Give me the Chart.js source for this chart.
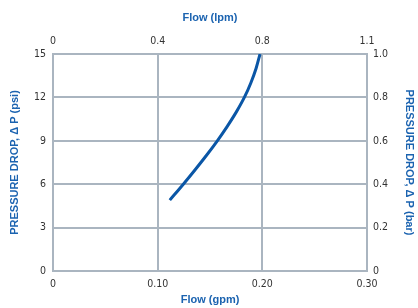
<!DOCTYPE html>
<html>
<head>
<meta charset="utf-8">
<script src="https://cdn.jsdelivr.net/npm/chart.js@4"></script>
<style>
  body { margin: 0; background: #fff; }
  #flowChart { display: block; }
</style>
</head>
<body>
<canvas id="flowChart" width="418" height="308"></canvas>
<script>
// curve: flow in gpm, pressure drop in psi
var flowGpm = [0.1116, 0.1245, 0.1358, 0.1467, 0.157, 0.1665, 0.1752, 0.1828, 0.189, 0.194, 0.1978];
var dropPsi = [4.9, 6, 7, 8, 9, 10, 11, 12, 13, 14, 15];

var bottomTicks = [0, 0.1, 0.2, 0.3];
var bottomLabels = ["0", "0.10", "0.20", "0.30"];
var topLabels = ["0", "0.4", "0.8", "1.1"];
var psiTicks = [0, 3, 6, 9, 12, 15];
var barTicks = [0, 0.2, 0.4, 0.6, 0.8, 1.0];

var blue = "#1b63b0";
var lineBlue = "#0a56a6";
var gridGrey = "#aab5c0";
var tickFont = { family: "'Liberation Sans Narrow', 'DejaVu Sans Condensed', Arial, sans-serif", size: 10.5 };
var titleFont = { family: "'Liberation Sans Narrow', 'Liberation Sans', Arial, sans-serif", size: 11, weight: "bold" };

var points = [];
for (var i = 0; i < flowGpm.length; i++) {
  points.push({ x: flowGpm[i], y: dropPsi[i] });
}

function fixedTicks(list) {
  return function (scale) {
    scale.ticks = list.map(function (v) { return { value: v }; });
  };
}

var ctx = document.getElementById("flowChart").getContext('2d');
var flowChart = new Chart(ctx, {
  type: 'line',
  data: {
    datasets: [{
      data: points,
      borderColor: lineBlue,
      borderWidth: 3,
      pointRadius: 0,
      cubicInterpolationMode: 'monotone',
      fill: false
    }]
  },
  options: {
    responsive: false,
    animation: false,
    plugins: { legend: { display: false }, tooltip: { enabled: false } },
    layout: { padding: 0 },
    scales: {
      x: {
        type: 'linear', position: 'bottom', min: 0, max: 0.3,
        afterBuildTicks: fixedTicks(bottomTicks),
        afterFit: function (s) { s.height = 37; },
        grid: { color: gridGrey, lineWidth: 2, drawTicks: false },
        border: { color: gridGrey, width: 2 },
        ticks: {
          color: "#333", font: tickFont, padding: 7, maxRotation: 0,
          callback: function (v, idx) { return bottomLabels[idx]; }
        },
        title: { display: true, text: "Flow (gpm)", color: blue, font: titleFont, padding: { top: 0, bottom: 1 } }
      },
      x2: {
        type: 'linear', position: 'top', min: 0, max: 0.3,
        afterBuildTicks: fixedTicks(bottomTicks),
        afterFit: function (s) { s.height = 54; },
        grid: { display: false, drawTicks: false },
        border: { color: gridGrey, width: 2 },
        ticks: {
          color: "#333", font: tickFont, padding: 6, maxRotation: 0,
          callback: function (v, idx) { return topLabels[idx]; }
        },
        title: { display: true, text: "Flow (lpm)", color: blue, font: titleFont, padding: { top: 11, bottom: 0 } }
      },
      y: {
        type: 'linear', position: 'left', min: 0, max: 15,
        afterBuildTicks: fixedTicks(psiTicks),
        afterFit: function (s) { s.width = 53; },
        grid: { color: gridGrey, lineWidth: 2, drawTicks: false },
        border: { color: gridGrey, width: 2 },
        ticks: { color: "#333", font: tickFont, padding: 7 },
        title: { display: true, text: "PRESSURE DROP, \u0394 P (psi)", color: blue, font: titleFont, padding: { top: 8, bottom: 0 } }
      },
      y2: {
        type: 'linear', position: 'right', min: 0, max: 1,
        afterBuildTicks: fixedTicks(barTicks),
        afterFit: function (s) { s.width = 51; },
        grid: { display: false, drawTicks: false },
        border: { color: gridGrey, width: 2 },
        ticks: {
          color: "#333", font: tickFont, padding: 6,
          callback: function (v) { return v === 0 ? "0" : v.toFixed(1); }
        },
        title: { display: true, text: "PRESSURE DROP, \u0394 P (bar)", color: blue, font: titleFont, padding: { top: 2, bottom: 0 } }
      }
    }
  }
});
</script>
</body>
</html>
